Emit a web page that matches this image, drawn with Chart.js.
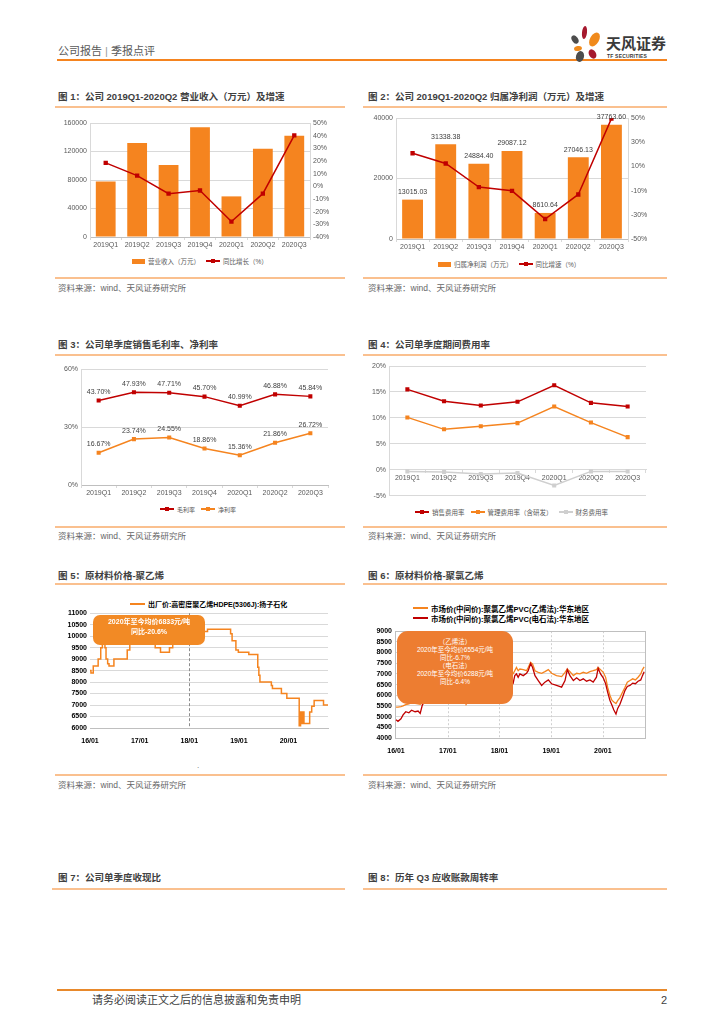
<!DOCTYPE html>
<html lang="zh-CN">
<head>
<meta charset="utf-8">
<title>公司报告 | 季报点评</title>
<script src="https://cdn.jsdelivr.net/npm/chart.js@4.4.1/dist/chart.umd.min.js"></script>
<style>
  html, body { margin: 0; padding: 0; background: #fff; }
  #page { position: relative; width: 724px; height: 1024px; overflow: hidden;
          font-family: "Liberation Sans", "Noto Sans CJK SC", sans-serif; color: #404040; }
  #page > div, #page > canvas { position: absolute; }
  .title { font-size: 9.5px; font-weight: bold; line-height: 12px; white-space: nowrap; color: #404040; }
  .rule { height: 2px; background: #FAC08F; }
  .src { font-size: 8.5px; line-height: 11px; color: #666; white-space: nowrap; }
  .legend { display: flex; align-items: center; height: 10px; white-space: nowrap; color: #595959; font-size: 6.5px; }
  .legend i { display: inline-block; position: relative; flex: none; }
  .box { width: 13px; height: 5px; margin-right: 3px; }
  .ln { width: 14px; height: 1.5px; margin: 0 3px 0 6px; }
  .ln.first { margin-left: 0; }
  .ln b { position: absolute; left: 5px; top: -1.25px; width: 4px; height: 4px; background: inherit; }
  .bold { font-weight: bold; color: #000; font-size: 7px; }
  .thick { width: 15px; height: 2px; margin-right: 3px; }
  .note { color: #fff; text-align: center; white-space: nowrap; z-index: 2; }
  .petal { border-radius: 50%; }
</style>
</head>
<body>
<div id="page">
  <!-- header -->
  <div style="left:58px;top:44px;font-size:11px;line-height:14px;color:#595959;white-space:nowrap">公司报告 <span style="color:#999">|</span> 季报点评</div>
  <div style="left:57px;top:59px;width:610px;height:2px;background:#F5841F"></div>
  <div class="petal" style="left:582px;top:26px;width:5px;height:13px;background:#A6192E;transform:rotate(6deg)"></div>
  <div class="petal" style="left:572px;top:35px;width:6px;height:9px;background:#4d4d4d;transform:rotate(-35deg)"></div>
  <div class="petal" style="left:590px;top:32px;width:9px;height:15px;background:#F08A1C;transform:rotate(30deg)"></div>
  <div class="petal" style="left:574px;top:46px;width:8px;height:5px;background:#F08A1C;transform:rotate(-10deg)"></div>
  <div class="petal" style="left:589px;top:49px;width:7px;height:10px;background:#A6192E;transform:rotate(-30deg)"></div>
  <div class="petal" style="left:576px;top:51px;width:8px;height:11px;background:#4d4d4d;transform:rotate(15deg)"></div>
  <div style="left:606px;top:34px;font-size:15px;line-height:18px;font-weight:bold;color:#3a3a3a;font-family:'Noto Sans CJK SC'">天风证券</div>
  <div style="left:607px;top:53px;font-size:5px;line-height:6px;font-weight:bold;color:#3a3a3a;letter-spacing:0.2px">TF SECURITIES</div>

  <!-- figure 1 / 2 -->
  <div class="title" style="left:58px;top:91px">图 1：公司 2019Q1-2020Q2 营业收入（万元）及增速</div>
  <div class="rule" style="left:55px;top:106px;width:290px"></div>
  <div class="title" style="left:368px;top:91px">图 2：公司 2019Q1-2020Q2 归属净利润（万元）及增速</div>
  <div class="rule" style="left:363px;top:106px;width:304px"></div>
  <canvas id="c1" width="290" height="142" style="left:55px;top:113px;width:290px;height:142px"></canvas>
  <canvas id="c2" width="300" height="148" style="left:360px;top:110px;width:300px;height:148px"></canvas>
  <div class="legend" style="left:132px;top:256px"><i class="box" style="background:#F5841F"></i>营业收入（万元）<i class="ln" style="background:#C00000"><b></b></i>同比增长（%）</div>
  <div class="legend" style="left:438px;top:259px"><i class="box" style="background:#F5841F"></i>归属净利润（万元）<i class="ln" style="background:#C00000"><b></b></i>同比增速（%）</div>
  <div class="rule" style="left:55px;top:277px;width:290px"></div>
  <div class="rule" style="left:363px;top:277px;width:304px"></div>
  <div class="src" style="left:58px;top:283px">资料来源：wind、天风证券研究所</div>
  <div class="src" style="left:368px;top:283px">资料来源：wind、天风证券研究所</div>

  <!-- figure 3 / 4 -->
  <div class="title" style="left:58px;top:339px">图 3：公司单季度销售毛利率、净利率</div>
  <div class="rule" style="left:55px;top:354px;width:290px"></div>
  <div class="title" style="left:368px;top:339px">图 4：公司单季度期间费用率</div>
  <div class="rule" style="left:363px;top:354px;width:304px"></div>
  <canvas id="c3" width="290" height="143" style="left:55px;top:360px;width:290px;height:143px"></canvas>
  <canvas id="c4" width="300" height="146" style="left:360px;top:357px;width:300px;height:146px"></canvas>
  <div class="legend" style="left:160px;top:504px;font-size:6px"><i class="ln first" style="background:#C00000"><b></b></i>毛利率<i class="ln" style="background:#F5841F"><b></b></i>净利率</div>
  <div class="legend" style="left:415px;top:507px"><i class="ln first" style="background:#C00000"><b></b></i>销售费用率<i class="ln" style="background:#F5841F"><b></b></i>管理费用率（含研发）<i class="ln" style="background:#cfcfcf"><b></b></i>财务费用率</div>
  <div class="rule" style="left:55px;top:526px;width:290px"></div>
  <div class="rule" style="left:363px;top:526px;width:304px"></div>
  <div class="src" style="left:58px;top:531px">资料来源：wind、天风证券研究所</div>
  <div class="src" style="left:368px;top:531px">资料来源：wind、天风证券研究所</div>

  <!-- figure 5 / 6 -->
  <div class="title" style="left:58px;top:570px">图 5：原材料价格-聚乙烯</div>
  <div class="rule" style="left:55px;top:583px;width:290px"></div>
  <div class="title" style="left:368px;top:570px">图 6：原材料价格-聚氯乙烯</div>
  <div class="rule" style="left:363px;top:583px;width:304px"></div>
  <div class="legend bold" style="left:130px;top:599px"><i class="thick" style="background:#F5841F"></i>出厂价:高密度聚乙烯HDPE(5306J):扬子石化</div>
  <div class="legend bold" style="left:413px;top:603px;font-size:7.5px"><i class="thick" style="background:#F5841F"></i>市场价(中间价):聚氯乙烯PVC(乙烯法):华东地区</div>
  <div class="legend bold" style="left:413px;top:613px;font-size:7.5px"><i class="thick" style="background:#C00000"></i>市场价(中间价):聚氯乙烯PVC(电石法):华东地区</div>
  <canvas id="c5" width="290" height="140" style="left:55px;top:606px;width:290px;height:140px"></canvas>
  <canvas id="c6" width="300" height="132" style="left:360px;top:624px;width:300px;height:132px"></canvas>
  <div class="note" style="left:93px;top:615px;width:112px;height:30px;background:#F28A25;border-radius:7px;font-size:7px;line-height:9.5px;font-weight:bold;padding-top:2px;box-sizing:border-box">2020年至今均价6833元/吨<br>同比-20.6%</div>
  <div class="note" style="left:397px;top:631px;width:116px;height:73px;background:#ED7D31;border-radius:11px;font-size:6.5px;line-height:7.9px;padding-top:7px;box-sizing:border-box">（乙烯法）<br>2020年至今均价6554元/吨<br>同比-6.7%<br>（电石法）<br>2020年至今均价6288元/吨<br>同比-6.4%</div>
  <div style="left:197px;top:761px;font-size:8px;color:#666">.</div>
  <div class="rule" style="left:55px;top:774px;width:290px"></div>
  <div class="rule" style="left:363px;top:774px;width:304px"></div>
  <div class="src" style="left:58px;top:780px">资料来源：wind、天风证券研究所</div>
  <div class="src" style="left:368px;top:780px">资料来源：wind、天风证券研究所</div>

  <!-- figure 7 / 8 titles -->
  <div class="title" style="left:58px;top:872px">图 7：公司单季度收现比</div>
  <div class="rule" style="left:52px;top:888px;width:293px"></div>
  <div class="title" style="left:368px;top:872px">图 8：历年 Q3 应收账款周转率</div>
  <div class="rule" style="left:363px;top:888px;width:304px"></div>

  <!-- footer -->
  <div style="left:57px;top:989px;width:610px;height:2px;background:#E8892B"></div>
  <div style="left:92px;top:993px;font-size:11px;line-height:14px;color:#404040;white-space:nowrap">请务必阅读正文之后的信息披露和免责申明</div>
  <div style="left:661px;top:993px;font-size:11px;line-height:14px;color:#404040">2</div>
</div>

<script>
// quarterly figures (fig 1-4)
var quarters = ['2019Q1', '2019Q2', '2019Q3', '2019Q4', '2020Q1', '2020Q2', '2020Q3'];
var revenue = [78000, 132000, 101000, 154000, 57000, 124000, 142000];
var revenueYoY = [18.5, 8.5, -5.8, -3.3, -27.8, -5.8, 40.2];
var netProfit = [13015.03, 31338.38, 24884.40, 29087.12, 8610.64, 27046.13, 37763.60];
var netProfitYoY = [20.9, 12.4, -7.1, -10.2, -33.5, -13.2, 49.5];
var grossMargin = [43.70, 47.93, 47.71, 45.70, 40.99, 46.88, 45.84];
var netMargin = [16.67, 23.74, 24.55, 18.86, 15.36, 21.86, 26.72];
var sellingRate = [15.5, 13.2, 12.4, 13.1, 16.3, 12.9, 12.2];
var adminRate = [10.1, 7.8, 8.4, 9.0, 12.2, 9.1, 6.3];
var financeRate = [-0.3, -0.4, -0.8, -0.6, -3.0, -0.3, -0.3];

// price charts (fig 5-6)
var yearTickDates = ['2016-01-01', '2017-01-01', '2018-01-01', '2019-01-01', '2020-01-01'];
var yearTickLabels = ['16/01', '17/01', '18/01', '19/01', '20/01'];

var hdpeDates = ['2016-01-01', '2016-01-08', '2016-01-25', '2016-03-01', '2016-03-20', '2016-04-01',
  '2016-04-20', '2016-04-28', '2016-05-10', '2016-05-20', '2016-06-25', '2016-10-01', '2016-10-20',
  '2016-11-10', '2016-12-15', '2017-02-01', '2017-03-20', '2017-04-25', '2017-06-03', '2017-08-08',
  '2017-09-01', '2017-10-10', '2018-01-10', '2018-04-01', '2018-05-15', '2018-11-01', '2018-11-12',
  '2018-12-10', '2018-12-28', '2019-03-15', '2019-05-20', '2019-05-28', '2019-06-05', '2019-08-28',
  '2019-09-05', '2019-11-10', '2019-12-20', '2020-03-20', '2020-03-30', '2020-04-08', '2020-04-16',
  '2020-04-24', '2020-06-05', '2020-06-20', '2020-07-08', '2020-09-15', '2020-10-18'];
var hdpePrice = [8500, 8400, 8700, 9000, 9500, 9900,
  9500, 9000, 8800, 8700, 9000, 9400, 9700,
  10000, 10400, 10200, 9900, 9500, 9300, 9500,
  9800, 10100, 10000, 10200, 10300, 10100, 9800,
  9400, 9300, 9200, 8650, 8300, 8000, 7850,
  7720, 7500, 7300, 6100, 6700, 6200, 6700,
  6200, 6700, 6950, 7200, 7000, 7000];

var pvcDates = ['2016-01-01', '2016-01-15', '2016-02-05', '2016-02-20', '2016-03-10', '2016-04-01',
  '2016-04-20', '2016-05-15', '2016-06-05', '2016-06-20', '2016-07-05', '2016-08-01', '2016-09-01',
  '2016-10-01', '2016-10-25', '2016-11-15', '2016-12-10', '2017-01-10', '2017-02-15', '2017-03-15',
  '2017-04-15', '2017-05-10', '2017-06-10', '2017-07-10', '2017-08-10', '2017-09-10', '2017-10-10',
  '2017-11-10', '2017-12-10', '2018-01-10', '2018-02-10', '2018-03-10', '2018-04-07', '2018-04-19',
  '2018-05-01', '2018-05-13', '2018-05-25', '2018-06-18', '2018-07-11', '2018-07-23', '2018-08-09',
  '2018-08-23', '2018-09-09', '2018-10-02', '2018-10-26', '2018-11-18', '2018-12-12', '2019-01-04',
  '2019-02-08', '2019-03-16', '2019-04-09', '2019-04-25', '2019-05-14', '2019-06-07', '2019-06-30',
  '2019-07-23', '2019-08-16', '2019-09-08', '2019-10-02', '2019-10-25', '2019-11-17', '2019-11-29',
  '2019-12-16', '2020-01-04', '2020-01-21', '2020-02-04', '2020-02-20', '2020-03-05', '2020-03-19',
  '2020-04-03', '2020-04-15', '2020-05-01', '2020-05-20', '2020-06-06', '2020-06-22', '2020-07-11',
  '2020-07-30', '2020-08-18', '2020-09-06', '2020-09-25', '2020-10-07', '2020-10-19'];
var pvcEthylene = [5450, 5450, 5470, 5500, 5560, 5600,
  5650, 5620, 5600, 5580, 5650, 5900, 6300,
  6900, 7600, 8300, 7400, 6700, 7000, 6700,
  6200, 5580, 6100, 6500, 7000, 7400, 7000,
  6800, 6600, 6800, 6900, 6850, 7000, 7150,
  7300, 7150, 7230, 7200, 7150, 7300, 7540,
  7460, 7150, 7075, 7030, 7110, 7200, 7030,
  6920, 6875, 7075, 7230, 7110, 6920, 7030,
  7000, 7075, 7030, 7110, 7150, 7200, 7300,
  7200, 7075, 6840, 6380, 6000, 5770, 5690,
  5615, 5750, 5890, 6150, 6380, 6615, 6690,
  6770, 6720, 6845, 7000, 7200, 7330];
var pvcCarbide = [4850, 4780, 4900, 5080, 5230, 5180,
  5300, 5230, 5260, 5150, 5540, 5850, 6250,
  6800, 7500, 8100, 6900, 6300, 6600, 6300,
  5800, 5620, 5900, 6300, 6800, 7100, 6700,
  6400, 6250, 6500, 6600, 6500, 6540, 6920,
  7000, 6845, 7000, 6920, 7030, 7150, 7490,
  7300, 6920, 6690, 6460, 6615, 6720, 6540,
  6460, 6380, 6690, 7200, 6920, 6690, 6815,
  6690, 6770, 6660, 6720, 6615, 6845, 7270,
  7000, 6815, 6540, 6150, 5770, 5540, 5310,
  5120, 5385, 5580, 5920, 6230, 6415, 6460,
  6570, 6540, 6660, 6720, 6920, 7100];

var ORANGE = '#F5841F';
var RED = '#C00000';
var GRID = '#d9d9d9';

Chart.defaults.animation = false;
Chart.defaults.responsive = false;
Chart.defaults.maintainAspectRatio = false;
Chart.defaults.font.family = '"Liberation Sans", "Noto Sans CJK SC", sans-serif';
Chart.defaults.font.size = 7;
Chart.defaults.color = '#595959';
Chart.defaults.plugins.legend.display = false;
Chart.defaults.plugins.tooltip.enabled = false;

function fixWidth(w) { return function (s) { s.width = w; }; }
function fixHeight(h) { return function (s) { s.height = h; }; }
function pct(v) { return v + '%'; }
function plain(v) { return String(v); }
function toPoints(dates, values) {
  return dates.map(function (d, i) { return { x: Date.parse(d), y: values[i] }; });
}
var yearTicks = yearTickDates.map(function (d) { return Date.parse(d); });
function yearAxisTicks(s) { s.ticks = yearTicks.map(function (v) { return { value: v }; }); }
function yearLabel(v) { return yearTickLabels[yearTicks.indexOf(v)]; }

// value labels above bars / points
var valueLabels = {
  id: 'valueLabels',
  afterDatasetsDraw: function (chart, args, opts) {
    var ctx = chart.ctx;
    ctx.save();
    ctx.font = '7px "Liberation Sans"';
    ctx.fillStyle = '#404040';
    ctx.textAlign = 'center';
    ctx.textBaseline = 'bottom';
    chart.data.datasets.forEach(function (ds, di) {
      if ((ds.type || chart.config.type) !== opts.kind) return;
      chart.getDatasetMeta(di).data.forEach(function (el, i) {
        ctx.fillText(ds.data[i].toFixed(2) + opts.suffix, el.x, el.y - opts.gap);
      });
    });
    ctx.restore();
  }
};

// year lines and plot frame on the price charts
var plotDecor = {
  id: 'plotDecor',
  beforeDatasetsDraw: function (chart, args, opts) {
    var ctx = chart.ctx, area = chart.chartArea, xs = chart.scales.x;
    ctx.save();
    ctx.strokeStyle = opts.color;
    ctx.lineWidth = 1;
    ctx.setLineDash(opts.dash);
    xs.ticks.forEach(function (t, i) {
      if (opts.only >= 0 ? i !== opts.only : i < 1) return;
      var x = Math.round(xs.getPixelForValue(t.value)) + 0.5;
      ctx.beginPath();
      ctx.moveTo(x, area.top);
      ctx.lineTo(x, area.bottom);
      ctx.stroke();
    });
    ctx.setLineDash([]);
    if (opts.frame) {
      ctx.strokeStyle = '#bfbfbf';
      ctx.strokeRect(Math.round(area.left) + 0.5, Math.round(area.top) + 0.5,
        Math.round(area.right - area.left), Math.round(area.bottom - area.top));
    }
    ctx.restore();
  }
};

function categoryAxis(h) {
  return {
    offset: true,
    grid: { display: true, drawOnChartArea: false, offset: true, tickLength: 3, color: GRID },
    border: { color: '#bfbfbf' },
    ticks: { padding: 1, autoSkip: false, maxRotation: 0 },
    afterFit: h ? fixHeight(h) : undefined
  };
}

// 图1
new Chart(document.getElementById('c1'), {
  type: 'bar',
  data: {
    labels: quarters,
    datasets: [
      { type: 'line', data: revenueYoY, yAxisID: 'y1', borderColor: RED, backgroundColor: RED,
        borderWidth: 1.5, pointStyle: 'rect', pointRadius: 2, order: 0 },
      { type: 'bar', data: revenue, yAxisID: 'y', backgroundColor: ORANGE,
        barPercentage: 0.63, categoryPercentage: 1, order: 1 }
    ]
  },
  options: {
    layout: { padding: { top: 10 } },
    scales: {
      x: categoryAxis(18),
      y: { min: 0, max: 160000, ticks: { stepSize: 40000, padding: 3, callback: plain },
           grid: { color: GRID, drawTicks: false }, border: { color: GRID }, afterFit: fixWidth(35) },
      y1: { position: 'right', min: -40, max: 50, ticks: { stepSize: 10, padding: 3, autoSkip: false, callback: pct },
            grid: { display: false, drawTicks: false }, border: { color: GRID }, afterFit: fixWidth(35) }
    }
  }
});

// 图2
new Chart(document.getElementById('c2'), {
  type: 'bar',
  data: {
    labels: quarters,
    datasets: [
      { type: 'line', data: netProfitYoY, yAxisID: 'y1', borderColor: RED, backgroundColor: RED,
        borderWidth: 1.5, pointStyle: 'rect', pointRadius: 2, order: 0 },
      { type: 'bar', data: netProfit, yAxisID: 'y', backgroundColor: ORANGE,
        barPercentage: 0.63, categoryPercentage: 1, order: 1 }
    ]
  },
  options: {
    layout: { padding: { top: 8 } },
    plugins: { valueLabels: { kind: 'bar', suffix: '', gap: 4 } },
    scales: {
      x: categoryAxis(19),
      y: { min: 0, max: 40000, ticks: { stepSize: 20000, padding: 3, callback: plain },
           grid: { color: GRID, drawTicks: false }, border: { color: GRID }, afterFit: fixWidth(36) },
      y1: { position: 'right', min: -50, max: 50, ticks: { stepSize: 20, padding: 3, callback: pct },
            grid: { display: false, drawTicks: false }, border: { color: GRID }, afterFit: fixWidth(32) }
    }
  },
  plugins: [valueLabels]
});

// 图3
new Chart(document.getElementById('c3'), {
  type: 'line',
  data: {
    labels: quarters,
    datasets: [
      { data: grossMargin, borderColor: RED, backgroundColor: RED, borderWidth: 1.5, pointStyle: 'rect', pointRadius: 1.8 },
      { data: netMargin, borderColor: ORANGE, backgroundColor: ORANGE, borderWidth: 1.5, pointStyle: 'rect', pointRadius: 1.8 }
    ]
  },
  options: {
    layout: { padding: { top: 9, right: 17 } },
    plugins: { valueLabels: { kind: 'line', suffix: '%', gap: 5 } },
    scales: {
      x: categoryAxis(18),
      y: { min: 0, max: 60, ticks: { stepSize: 30, padding: 3, callback: pct },
           grid: { color: GRID, drawTicks: false }, border: { color: GRID }, afterFit: fixWidth(26) }
    }
  },
  plugins: [valueLabels]
});

// 图4
new Chart(document.getElementById('c4'), {
  type: 'line',
  data: {
    labels: quarters,
    datasets: [
      { data: sellingRate, borderColor: RED, backgroundColor: RED, borderWidth: 1.5, pointStyle: 'rect', pointRadius: 1.8 },
      { data: adminRate, borderColor: ORANGE, backgroundColor: ORANGE, borderWidth: 1.5, pointStyle: 'rect', pointRadius: 1.8 },
      { data: financeRate, borderColor: '#cfcfcf', backgroundColor: '#cfcfcf', borderWidth: 1.5, pointStyle: 'rect', pointRadius: 1.8 }
    ]
  },
  options: {
    layout: { padding: { top: 9, right: 14, bottom: 6 } },
    scales: {
      x: { position: { y: 0 }, offset: true,
           grid: { display: true, drawOnChartArea: false, offset: true, tickLength: 3, color: GRID },
           border: { color: GRID }, ticks: { padding: 1, autoSkip: false, maxRotation: 0 } },
      y: { min: -5, max: 20, ticks: { stepSize: 5, padding: 3, callback: pct },
           grid: { color: GRID, drawTicks: false }, border: { color: GRID }, afterFit: fixWidth(29) }
    }
  }
});

// 图5
new Chart(document.getElementById('c5'), {
  type: 'line',
  data: {
    datasets: [
      { data: toPoints(hdpeDates, hdpePrice), borderColor: ORANGE, borderWidth: 1.5, pointRadius: 0, stepped: 'before' }
    ]
  },
  options: {
    layout: { padding: { top: 6, right: 17 } },
    plugins: { plotDecor: { color: '#8c8c8c', dash: [3, 2], only: 2, frame: false } },
    scales: {
      x: { type: 'linear', min: Date.parse('2016-01-01'), max: Date.parse('2020-10-18'),
           afterBuildTicks: yearAxisTicks,
           ticks: { callback: yearLabel, padding: 1, maxRotation: 0, color: '#000', font: { weight: 'bold', size: 7 } },
           grid: { display: false }, border: { color: '#bfbfbf' }, afterFit: fixHeight(18) },
      y: { min: 6000, max: 11000,
           ticks: { stepSize: 500, padding: 3, autoSkip: false, callback: plain, color: '#000', font: { weight: 'bold', size: 7 } },
           grid: { color: GRID, drawTicks: false }, border: { display: false }, afterFit: fixWidth(35) }
    }
  },
  plugins: [plotDecor]
});

// 图6
new Chart(document.getElementById('c6'), {
  type: 'line',
  data: {
    datasets: [
      { data: toPoints(pvcDates, pvcCarbide), borderColor: RED, borderWidth: 1.3, pointRadius: 0 },
      { data: toPoints(pvcDates, pvcEthylene), borderColor: ORANGE, borderWidth: 1.3, pointRadius: 0 }
    ]
  },
  options: {
    layout: { padding: { top: 6, right: 15 } },
    plugins: { plotDecor: { color: '#d0d0d0', dash: [2, 2], only: -1, frame: true } },
    scales: {
      x: { type: 'linear', min: Date.parse('2015-12-25'), max: Date.parse('2020-10-25'),
           afterBuildTicks: yearAxisTicks,
           ticks: { callback: yearLabel, padding: 1, maxRotation: 0, color: '#000', font: { weight: 'bold', size: 7 } },
           grid: { display: false }, border: { color: '#bfbfbf' }, afterFit: fixHeight(18) },
      y: { min: 4000, max: 9000,
           ticks: { stepSize: 500, padding: 3, autoSkip: false, callback: plain, color: '#000', font: { weight: 'bold', size: 7 } },
           grid: { color: GRID, drawTicks: false }, border: { display: false }, afterFit: fixWidth(35) }
    }
  },
  plugins: [plotDecor]
});
</script>
</body>
</html>
